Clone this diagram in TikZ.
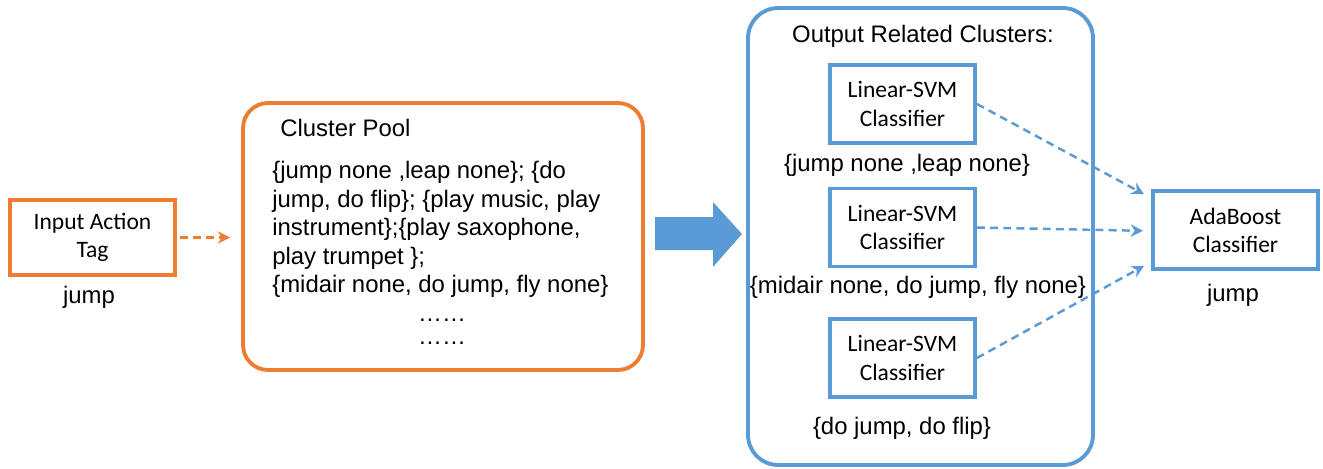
\documentclass[tikz,border=0pt]{standalone}
\usepackage{fontspec}
\setmainfont{Liberation Sans}
\newfontfamily\calfont{Carlito}
\usetikzlibrary{arrows.meta,positioning}

\definecolor{tagorange}{RGB}{237,125,49}
\definecolor{svmblue}{RGB}{91,155,213}

\begin{document}
\begin{tikzpicture}[x=0.02cm,y=-0.02cm,>={Stealth[length=7pt,width=7pt]},
	box/.style={draw,line width=2.2pt,align=center,inner sep=0pt,
		font=\calfont\fontsize{13.4}{16}\selectfont},
	txt/.style={inner sep=0pt,font=\fontsize{13.6}{16.2}\selectfont},
	link/.style={->,line width=1.4pt,dash pattern=on 4.5pt off 3pt}
]
\useasboundingbox (0,0) rectangle (1323,468);

% Input tag
\node[box,tagorange,text=black,minimum width=3.3cm,minimum height=1.5cm]
	(tag) at (92.5,237.5) {Input Action\\Tag};
\node[txt] (tagout) at (89,297) {jump};

% Cluster pool
\node[draw=tagorange,line width=2.2pt,rounded corners=0.5cm,
	minimum width=8cm,minimum height=5.34cm] (pool) at (443,236.5) {};
\node[txt,anchor=west] (pooltitle) at (280,128) {Cluster Pool};
\node[txt,anchor=north west,align=left] (poollist) at (272,161)
	{\{jump none ,leap none\}; \{do\\
	 jump, do flip\}; \{play music, play\\
	 instrument\};\{play saxophone,\\
	 play trumpet \};\\
	 \{midair none, do jump, fly none\}};
\node[txt] (dots1) at (442,320) {……};
\node[txt] (dots2) at (442,343) {……};

\draw[link,tagorange,shorten <=0.06cm,shorten >=0.22cm] (tag.east) -- (tag.east -| pool.west);

% Big arrow
\fill[svmblue] (655,217) -- (713,217) -- (713,202) -- (742,234)
	-- (713,267) -- (713,250) -- (655,250) -- cycle;

% Output related clusters
\node[draw=svmblue,line width=2.2pt,rounded corners=0.6cm,
	minimum width=6.9cm,minimum height=9.14cm] (out) at (920.5,236.5) {};
\node[txt] (outtitle) at (923,36) {Output Related Clusters:};

\foreach \i/\y/\lx/\ly/\lab in {1/104/907/165/{\{jump none ,leap none\}},
	2/227.5/918/287/{\{midair none, do jump, fly none\}},
	3/358/902/428/{\{do jump, do flip\}}}{
	\node[box,svmblue,text=black,minimum width=2.9cm,minimum height=1.56cm]
		(svm\i) at (902.5,\y) {Linear-SVM\\Classifier};
	\node[txt] (clu\i) at (\lx,\ly) {\lab};
}

% AdaBoost
\node[box,svmblue,text=black,minimum width=3.3cm,minimum height=1.56cm]
	(ada) at (1235.5,230) {AdaBoost\\Classifier};
\node[txt] (adaout) at (1233,295) {jump};

\draw[link,svmblue,shorten >=0.16cm] (svm1.east) -- ([yshift=0.64cm]ada.west);
\draw[link,svmblue,shorten >=0.16cm] (svm2.east) -- ([yshift=-0.02cm]ada.west);
\draw[link,svmblue,shorten >=0.16cm] (svm3.east) -- ([yshift=-0.64cm]ada.west);
\end{tikzpicture}
\end{document}
